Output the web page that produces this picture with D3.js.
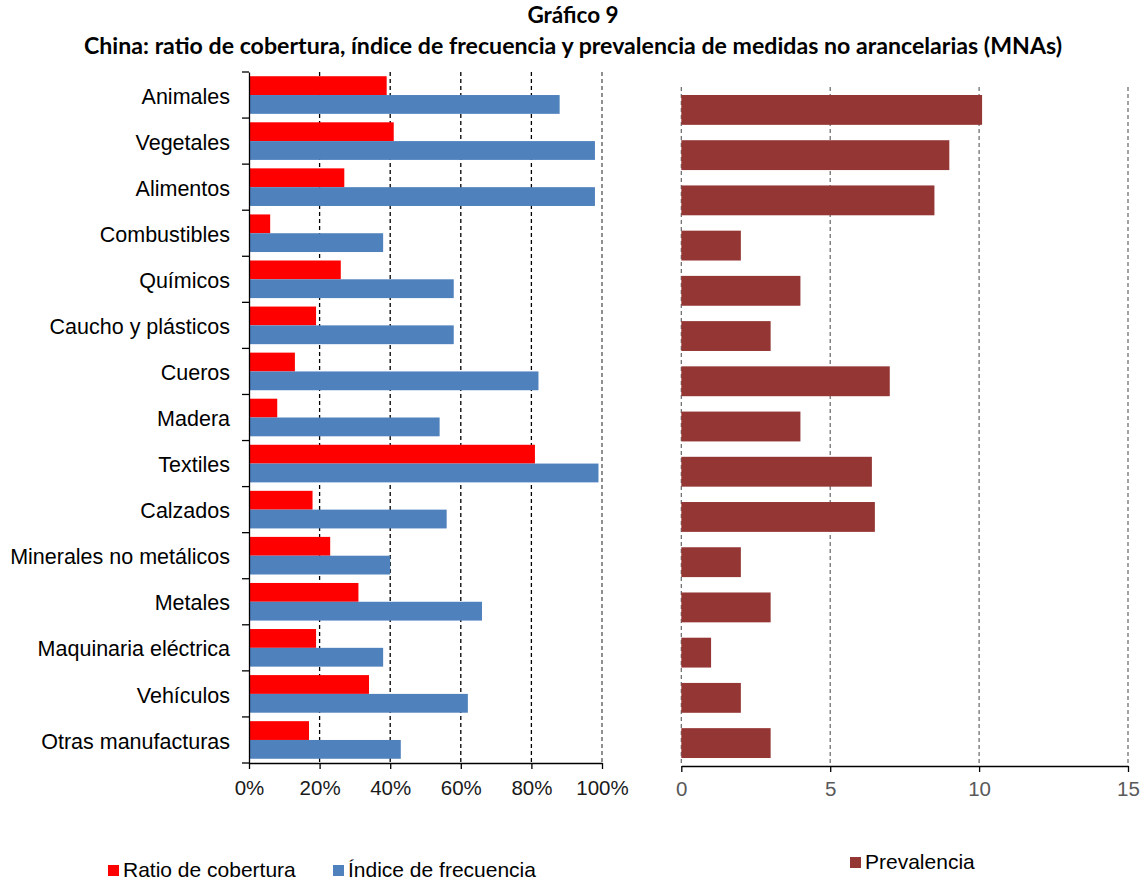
<!DOCTYPE html>
<html><head><meta charset="utf-8">
<script src="https://cdn.jsdelivr.net/npm/d3@7"></script>
<style>body{margin:0;background:#fff}svg{display:block}</style>
</head><body>
<svg id="c" width="1146" height="883"></svg>
<script>
const categories = ["Animales","Vegetales","Alimentos","Combustibles","Químicos","Caucho y plásticos","Cueros","Madera","Textiles","Calzados","Minerales no metálicos","Metales","Maquinaria eléctrica","Vehículos","Otras manufacturas"];
const ratioCobertura = [39,41,27,6,26,19,13,8,81,18,23,31,19,34,17];
const indiceFrecuencia = [88,98,98,38,58,58,82,54,99,56,40,66,38,62,43];
const prevalencia = [10.1,9.0,8.5,2,4,3,7,4,6.4,6.5,2,3,1,2,3];
const pctTicks = [0,20,40,60,80,100];
const prevTicks = [0,5,10,15];
const titleLines = ["Gráfico 9","China: ratio de cobertura, índice de frecuencia y prevalencia de medidas no arancelarias (MNAs)"];

const svg = d3.select("#c");
const font = "'Liberation Sans', Arial, sans-serif";

// Title
svg.selectAll("text.title").data(titleLines).join("text")
  .attr("x",573).attr("y",(d,i)=>i?54:23)
  .attr("text-anchor","middle").attr("font-family","Lato, sans-serif")
  .attr("font-weight","bold").attr("font-size",22.5).attr("fill","#000")
  .attr("textLength",(d,i)=>i?978:null).attr("lengthAdjust","spacingAndGlyphs")
  .text(d=>d);

// ---------- Left chart
const xL = d3.scaleLinear().domain([0,100]).range([249,602]);
const yL = d3.scaleBand().domain(categories).range([72,763]).padding(0);
const yInner = d3.scaleBand().domain(["r","i"]).range([0,yL.bandwidth()]).paddingInner(0).paddingOuter(0.225);

const gL = svg.append("g");
gL.selectAll("line.grid").data(pctTicks.filter(d=>d>0)).join("line")
  .attr("x1",d=>xL(d)).attr("x2",d=>xL(d)).attr("y1",72).attr("y2",763)
  .attr("stroke",(d)=>d===100?"#555":"#000").attr("stroke-width",1.3).attr("stroke-dasharray","4,3");

gL.selectAll("rect.r").data(categories).join("rect")
  .attr("x",xL(0)).attr("y",(d)=>yL(d)+yInner("r"))
  .attr("width",(d,i)=>xL(ratioCobertura[i])-xL(0)).attr("height",yInner.bandwidth())
  .attr("fill","#FF0000");
gL.selectAll("rect.i").data(categories).join("rect")
  .attr("x",xL(0)).attr("y",(d)=>yL(d)+yInner("i"))
  .attr("width",(d,i)=>xL(indiceFrecuencia[i])-xL(0)).attr("height",yInner.bandwidth())
  .attr("fill","#4F81BD");

// x axis left
const axL = gL.append("g").attr("transform","translate(0,763)")
  .call(d3.axisBottom(xL).tickValues(pctTicks).tickFormat(d=>d+"%").tickSize(6).tickSizeOuter(0));
axL.select(".domain").attr("stroke","#000").attr("stroke-width",1.3);
axL.selectAll(".tick line").attr("stroke","#000").attr("stroke-width",1.3);
axL.selectAll(".tick text").attr("font-family",font).attr("font-size",20.5).attr("fill","#1a1a1a").attr("dy","1.1em");

// y axis left
const ayL = gL.append("g").attr("transform","translate(249,0)")
  .call(d3.axisLeft(yL).tickSize(0).tickPadding(19));
ayL.select(".domain").attr("stroke","#000").attr("stroke-width",1.3);
ayL.selectAll(".tick text").attr("font-family",font).attr("font-size",21.5).attr("fill","#000").attr("dy","0.4em");
const bounds = categories.map(c=>yL(c)).concat([yL.range()[1]]);
ayL.selectAll("line.bt").data(bounds).join("line")
  .attr("x1",-7).attr("x2",0).attr("y1",d=>d).attr("y2",d=>d)
  .attr("stroke","#000").attr("stroke-width",1.3);

// ---------- Right chart
const xR = d3.scaleLinear().domain([0,15]).range([681.3,1128]);
const yR = d3.scaleBand().domain(categories).range([87.3,765.7]).paddingInner(0.34).paddingOuter(0.17);
const gR = svg.append("g");
gR.selectAll("line.grid").data(prevTicks).join("line")
  .attr("x1",d=>xR(d)).attr("x2",d=>xR(d)).attr("y1",87).attr("y2",766)
  .attr("stroke","#666").attr("stroke-width",1.2).attr("stroke-dasharray","4,3");
gR.selectAll("rect.p").data(categories).join("rect")
  .attr("x",xR(0)).attr("y",d=>yR(d))
  .attr("width",(d,i)=>xR(prevalencia[i])-xR(0)).attr("height",yR.bandwidth())
  .attr("fill","#943634");
const axR = gR.append("g").attr("transform","translate(0,766)")
  .call(d3.axisBottom(xR).tickValues(prevTicks).tickSize(6).tickSizeOuter(0));
axR.select(".domain").attr("stroke","#000").attr("stroke-width",1.3);
axR.selectAll(".tick line").attr("stroke","#000").attr("stroke-width",1.3);
axR.selectAll(".tick text").attr("font-family",font).attr("font-size",20.5).attr("fill","#595959").attr("dy","1.0em");

// ---------- Legends
const legend = [
  {label:"Ratio de cobertura", color:"#FF0000", x:108, y:865},
  {label:"Índice de frecuencia", color:"#4F81BD", x:333, y:865},
  {label:"Prevalencia", color:"#943634", x:850, y:857}
];
const lg = svg.selectAll("g.lg").data(legend).join("g").attr("transform",d=>`translate(${d.x},${d.y})`);
lg.append("rect").attr("width",11).attr("height",11).attr("fill",d=>d.color);
lg.append("text").attr("x",15).attr("y",12).attr("font-family",font).attr("font-size",21).attr("fill","#000").text(d=>d.label);
</script>
</body></html>
